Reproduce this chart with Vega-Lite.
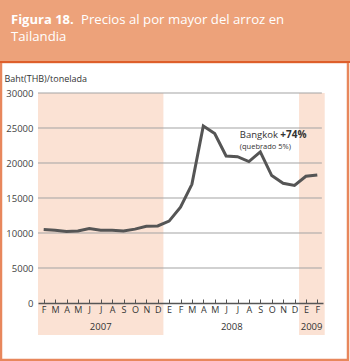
{
  "$schema": "https://vega.github.io/schema/vega-lite/v6.json",
  "width": 285,
  "height": 210,
  "autosize": {"type": "none"},
  "padding": {"left": 38, "top": 93, "right": 27, "bottom": 58},
  "background": "white",
  "config": {"view": {"stroke": null}, "font": "Open Sans"},
  "data": {"values": [{"one": 1}]},
  "datasets": {
    "rice": [
      {"i": 0, "price": 10500}, {"i": 1, "price": 10400}, {"i": 2, "price": 10200},
      {"i": 3, "price": 10300}, {"i": 4, "price": 10650}, {"i": 5, "price": 10400},
      {"i": 6, "price": 10400}, {"i": 7, "price": 10300}, {"i": 8, "price": 10550},
      {"i": 9, "price": 10950}, {"i": 10, "price": 11000}, {"i": 11, "price": 11700},
      {"i": 12, "price": 13700}, {"i": 13, "price": 16950}, {"i": 14, "price": 25300},
      {"i": 15, "price": 24200}, {"i": 16, "price": 21000}, {"i": 17, "price": 20900},
      {"i": 18, "price": 20200}, {"i": 19, "price": 21600}, {"i": 20, "price": 18200},
      {"i": 21, "price": 17100}, {"i": 22, "price": 16800}, {"i": 23, "price": 18100},
      {"i": 24, "price": 18300}
    ],
    "years": [{"year": "2007", "mid": 5}, {"year": "2008", "mid": 16.5}, {"year": "2009", "mid": 23.5}],
    "shade": [{"from": -0.5, "to": 10.5}, {"from": 22.4, "to": 24.65}],
    "grid": [{"v": 5000}, {"v": 10000}, {"v": 15000}, {"v": 20000}, {"v": 25000}, {"v": 30000}]
  },
  "resolve": {"axis": {"x": "independent", "y": "independent"}},
  "layer": [
    {
      "mark": {"type": "rect", "fill": null, "stroke": "#E8875C", "strokeWidth": 2.5},
      "encoding": {
        "x": {"datum": -3.746, "type": "quantitative", "scale": {"domain": [-0.5, 24.5], "nice": false, "zero": false}, "axis": null},
        "x2": {"datum": 26.693},
        "y": {"datum": 34429, "type": "quantitative", "scale": {"domain": [0, 30000], "nice": false, "zero": false}, "axis": null},
        "y2": {"datum": -8143}
      }
    },
    {
      "mark": {"type": "rect", "fill": "#EDA27A"},
      "encoding": {
        "x": {"datum": -3.9, "type": "quantitative", "axis": null},
        "x2": {"datum": 26.9},
        "y": {"datum": 43400, "type": "quantitative", "axis": null},
        "y2": {"datum": 34571}
      }
    },
    {
      "mark": {"type": "rule", "color": "#DE5F2B", "strokeWidth": 2},
      "encoding": {
        "x": {"datum": -3.9, "type": "quantitative", "axis": null},
        "x2": {"datum": 26.9},
        "y": {"datum": 34429, "type": "quantitative", "axis": null}
      }
    },
    {
      "data": {"name": "shade"},
      "mark": {"type": "rect", "fill": "#FBE2D4"},
      "encoding": {
        "x": {"field": "from", "type": "quantitative", "axis": null},
        "x2": {"field": "to"},
        "y": {"datum": 30000, "type": "quantitative", "axis": null},
        "y2": {"datum": -4571}
      }
    },
    {
      "data": {"name": "grid"},
      "mark": {"type": "rule", "color": "#A3A3A3", "strokeWidth": 1},
      "encoding": {
        "x": {"datum": -0.5, "type": "quantitative", "axis": null},
        "x2": {"datum": 24.4},
        "y": {"field": "v", "type": "quantitative", "axis": null}
      }
    },
    {
      "data": {"name": "rice"},
      "mark": {"type": "line", "color": "#555555", "strokeWidth": 3},
      "encoding": {
        "x": {"field": "i", "type": "quantitative",
          "axis": {
            "title": null, "values": [0,1,2,3,4,5,6,7,8,9,10,11,12,13,14,15,16,17,18,19,20,21,22,23,24],
            "labelExpr": "['F','M','A','M','J','J','A','S','O','N','D','E'][datum.value % 12]",
            "domainColor": "#555555", "domainWidth": 1.5, "tickColor": "#555555", "tickSize": -4, "tickWidth": 1,
            "labelFontSize": 9, "labelColor": "#333333", "labelPadding": 6, "labelFlush": false, "labelOverlap": false, "labelBound": false,
            "grid": false, "zindex": 1
          }},
        "y": {"field": "price", "type": "quantitative",
          "axis": {
            "title": "Baht(THB)/tonelada", "titleAngle": 0, "titleX": -34, "titleY": -15, "titleAlign": "left",
            "titleBaseline": "middle", "titleFontSize": 9, "titleFontWeight": "normal", "titleColor": "#333333",
            "values": [0, 5000, 10000, 15000, 20000, 25000, 30000], "format": "d",
            "domain": false, "ticks": false, "grid": false, "labelPadding": 5, "labelOverlap": false, "labelBound": false,
            "labelFontSize": 9.5, "labelColor": "#444444", "zindex": 1
          }}
      }
    },
    {
      "data": {"name": "years"},
      "mark": {"type": "text", "fontSize": 9.5, "color": "#333333", "baseline": "middle", "align": "center"},
      "encoding": {
        "x": {"field": "mid", "type": "quantitative", "axis": null},
        "y": {"datum": -3429, "type": "quantitative", "axis": null},
        "text": {"field": "year"}
      }
    },
    {
      "mark": {"type": "text", "fontSize": 9.5, "color": "#333333", "align": "left", "baseline": "alphabetic"},
      "encoding": {
        "x": {"datum": 17.2, "type": "quantitative", "axis": null},
        "y": {"datum": 23570, "type": "quantitative", "axis": null},
        "text": {"value": "Bangkok"}
      }
    },
    {
      "mark": {"type": "text", "fontSize": 10, "fontWeight": "bold", "color": "#333333", "align": "right", "baseline": "alphabetic"},
      "encoding": {
        "x": {"datum": 23.05, "type": "quantitative", "axis": null},
        "y": {"datum": 23570, "type": "quantitative", "axis": null},
        "text": {"value": "+74%"}
      }
    },
    {
      "mark": {"type": "text", "fontSize": 7.5, "color": "#333333", "align": "left", "baseline": "alphabetic"},
      "encoding": {
        "x": {"datum": 17.2, "type": "quantitative", "axis": null},
        "y": {"datum": 21950, "type": "quantitative", "axis": null},
        "text": {"value": "(quebrado 5%)"}
      }
    },
    {
      "mark": {"type": "text", "fontSize": 13, "fontWeight": "bold", "color": "white", "align": "left", "baseline": "alphabetic"},
      "encoding": {
        "x": {"datum": -2.868, "type": "quantitative", "axis": null},
        "y": {"datum": 39857, "type": "quantitative", "axis": null},
        "text": {"value": "Figura 18."}
      }
    },
    {
      "mark": {"type": "text", "fontSize": 13.2, "color": "white", "align": "left", "baseline": "alphabetic"},
      "encoding": {
        "x": {"datum": 3.272, "type": "quantitative", "axis": null},
        "y": {"datum": 39857, "type": "quantitative", "axis": null},
        "text": {"value": "Precios al por mayor del arroz en"}
      }
    },
    {
      "mark": {"type": "text", "fontSize": 13.2, "color": "white", "align": "left", "baseline": "alphabetic"},
      "encoding": {
        "x": {"datum": -2.868, "type": "quantitative", "axis": null},
        "y": {"datum": 37429, "type": "quantitative", "axis": null},
        "text": {"value": "Tailandia"}
      }
    }
  ]
}
